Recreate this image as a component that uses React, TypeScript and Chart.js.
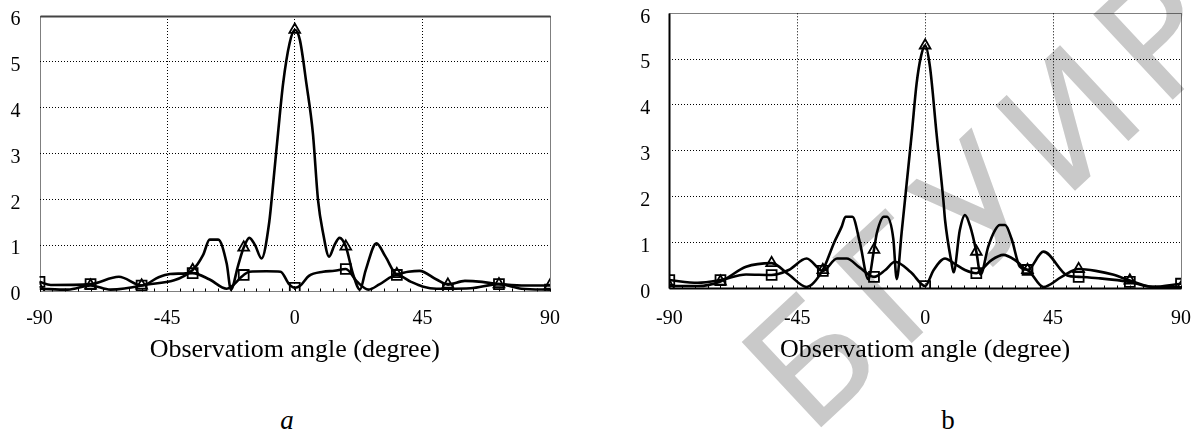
import React, { useEffect, useRef } from "react";
import { Chart, registerables } from "chart.js";

Chart.register(...registerables);

// ---------------- data ----------------
const X_TICK_VALUES = [-90, -45, 0, 45, 90];
const Y_TICK_VALUES = [0, 1, 2, 3, 4, 5, 6];
const MARKER_ANGLES = [-90, -72, -54, -36, -18, 0, 18, 36, 54, 72, 90];
const MINOR_TICK_STEP = 4.5;

const AXIS_TITLE = "Observatiom angle (degree)";
const CAPTION_A = "a";
const CAPTION_B = "b";
const WATERMARK = "БГУИР";

// panel a — triangle-marked series (main beam)
const A_TRI_ANGLES = [-90, -80, -72, -65, -54, -36, -32.3, -30, -27, -24, -22.5, -20, -18, -16, -14, -11.7, -9, -7.6, -5.9, -4.1, -1.8, 0, 1.8, 4.1, 6.4, 8.2, 10, 12.1, 14, 15.8, 18, 20.5, 23, 25, 28.8, 32, 36, 40, 44, 50, 54, 60, 66, 72, 80, 90];
const A_TRI_VALUES = [0.05, 0.03, 0.12, 0.03, 0.12, 0.46, 0.79, 1.12, 1.12, 0.6, 0.03, 0.55, 0.95, 1.16, 1.0, 0.71, 1.5, 2.35, 3.44, 4.53, 5.41, 5.7, 5.48, 4.53, 3.44, 1.99, 1.26, 0.75, 1.0, 1.16, 0.97, 0.38, 0.03, 0.45, 1.04, 0.75, 0.37, 0.42, 0.44, 0.25, 0.14, 0.22, 0.2, 0.15, 0.12, 0.12];
// panel a — square-marked series
const A_SQ_ANGLES = [-90, -86, -72, -62, -54, -48, -44, -40, -36, -30, -24, -18, -16, -10, -5, -2, 0, 2, 5, 10, 14, 18, 22, 26, 30, 36, 41, 45, 50, 54, 62, 72, 80, 90];
const A_SQ_VALUES = [0.2, 0.13, 0.15, 0.31, 0.12, 0.3, 0.37, 0.38, 0.39, 0.25, 0.05, 0.35, 0.42, 0.43, 0.42, 0.15, 0.07, 0.12, 0.33, 0.42, 0.44, 0.48, 0.2, 0.03, 0.15, 0.35, 0.2, 0.1, 0.05, 0.05, 0.06, 0.15, 0.05, 0.03];

// panel b — triangle-marked series (main beam)
const B_TRI_ANGLES = [-90, -80, -72, -63, -54, -48, -41.7, -36, -32, -29.4, -28, -25.6, -22.9, -20, -18, -17, -14.5, -13.5, -11.2, -10, -8.3, -6.5, -4.7, -3, -1.5, 0, 1.7, 4, 6.4, 7, 9.3, 10, 12.2, 14, 15.8, 18, 19.5, 22.2, 24.6, 26.3, 28.1, 30.4, 33.3, 36, 41.6, 48, 54, 60, 66, 72, 79, 90];
const B_TRI_VALUES = [0.05, 0.05, 0.15, 0.47, 0.55, 0.3, 0.03, 0.4, 1.0, 1.34, 1.56, 1.56, 0.98, 0.2, 0.84, 1.2, 1.56, 1.56, 1.08, 0.2, 1.2, 2.29, 3.38, 4.47, 5.05, 5.3, 4.83, 3.38, 1.93, 1.49, 0.55, 0.35, 1.27, 1.6, 1.36, 0.8, 0.3, 0.91, 1.27, 1.38, 1.38, 1.08, 0.47, 0.4, 0.03, 0.25, 0.42, 0.38, 0.3, 0.17, 0.04, 0.02];
// panel b — square-marked series
const B_SQ_ANGLES = [-90, -80, -72, -63, -54, -48, -41.7, -36, -31, -27.6, -23, -18, -14, -10.6, -5, 0, 3, 7, 10, 14, 18, 23, 27.5, 32, 36, 41.6, 50, 54, 61, 72, 80, 90];
const B_SQ_VALUES = [0.18, 0.12, 0.18, 0.3, 0.29, 0.4, 0.65, 0.38, 0.65, 0.65, 0.45, 0.25, 0.4, 0.58, 0.35, 0.05, 0.4, 0.65, 0.55, 0.4, 0.33, 0.6, 0.73, 0.6, 0.4, 0.8, 0.28, 0.25, 0.22, 0.14, 0.03, 0.1];

// ---------------- styling ----------------
const SERIF = '"Liberation Serif", "Times New Roman", serif';
const TICK_FONT = { family: SERIF, size: 20 };
const TITLE_FONT = { family: SERIF, size: 26 };

type Side = "solid" | "dotted";
interface PanelSpec {
  tri: [number[], number[]];
  sq: [number[], number[]];
  left: number;
  width: number;
  height: number;
  pad: { left: number; right: number; top: number; bottom: number };
  yWidth: number;
  xHeight: number;
  xTickPadding: number;
  frame: { top: Side; right: Side; bottom: Side; left: Side };
}

const PANEL_A: PanelSpec = {
  tri: [A_TRI_ANGLES, A_TRI_VALUES],
  sq: [A_SQ_ANGLES, A_SQ_VALUES],
  left: 0,
  width: 590,
  height: 380,
  pad: { left: 0, right: 40, top: 16, bottom: 0 },
  yWidth: 39.5,
  xHeight: 89,
  xTickPadding: 16,
  frame: { top: "solid", right: "dotted", bottom: "dotted", left: "dotted" },
};

const PANEL_B: PanelSpec = {
  tri: [B_TRI_ANGLES, B_TRI_VALUES],
  sq: [B_SQ_ANGLES, B_SQ_VALUES],
  left: 600,
  width: 599,
  height: 380,
  pad: { left: 0, right: 18, top: 13.3, bottom: 0 },
  yWidth: 69.3,
  xHeight: 91.7,
  xTickPadding: 18.7,
  frame: { top: "dotted", right: "dotted", bottom: "solid", left: "solid" },
};

const framePlugin = {
  id: "frame",
  beforeDatasetsDraw(chart: any, _args: any, opts: any) {
    const { ctx, chartArea: a } = chart;
    const xs = chart.scales.x;
    ctx.save();
    const side = (style: Side, x1: number, y1: number, x2: number, y2: number) => {
      ctx.beginPath();
      if (style === "solid") {
        ctx.setLineDash([]);
        ctx.lineWidth = 2;
        ctx.strokeStyle = opts.solidColor || "#000";
      } else {
        ctx.setLineDash([1, 1]);
        ctx.lineWidth = 1;
        ctx.strokeStyle = "#000";
      }
      ctx.moveTo(x1, y1);
      ctx.lineTo(x2, y2);
      ctx.stroke();
    };
    const L = Math.round(a.left) + 0.5;
    const R = Math.round(a.right) + 0.5;
    const T = Math.round(a.top) + 0.5;
    const B = Math.round(a.bottom) + 0.5;
    side(opts.top, L, T, R, T);
    side(opts.right, R, T, R, B);
    side(opts.bottom, L, B, R, B);
    side(opts.left, L, T, L, B);
    ctx.setLineDash([]);
    ctx.lineWidth = 1;
    ctx.strokeStyle = "#000";
    for (let v = xs.min; v <= xs.max + 1e-9; v += MINOR_TICK_STEP) {
      const px = Math.round(xs.getPixelForValue(v)) + 0.5;
      ctx.beginPath();
      ctx.moveTo(px, B);
      ctx.lineTo(px, B - 3);
      ctx.stroke();
    }
    ctx.restore();
  },
};

const isMarker = (ctx: any) => ctx.raw && MARKER_ANGLES.includes(ctx.raw.x);

function series(angles: number[], values: number[], style: string, r: number) {
  return {
    data: angles.map((x, i) => ({ x, y: values[i] })),
    borderColor: "#000",
    borderWidth: 2.6,
    pointStyle: style,
    pointRadius: (ctx: any) => (isMarker(ctx) ? r : 0),
    pointHoverRadius: 0,
    pointBorderColor: "#000",
    pointBackgroundColor: "rgba(255,255,255,0)",
    pointBorderWidth: 1.8,
    cubicInterpolationMode: "monotone",
    fill: false,
  };
}

function buildConfig(spec: PanelSpec): any {
  const edgeX = (v: number) => v === X_TICK_VALUES[0] || v === X_TICK_VALUES[X_TICK_VALUES.length - 1];
  const edgeY = (v: number) => v === Y_TICK_VALUES[0] || v === Y_TICK_VALUES[Y_TICK_VALUES.length - 1];
  return {
    type: "line",
    data: {
      datasets: [
        series(spec.tri[0], spec.tri[1], "triangle", 6.2),
        series(spec.sq[0], spec.sq[1], "rect", 7),
      ],
    },
    options: {
      responsive: false,
      animation: false,
      events: [],
      layout: { padding: spec.pad },
      plugins: {
        legend: { display: false },
        tooltip: { enabled: false },
        frame: { ...spec.frame, solidColor: spec.frame.top === "solid" ? "#444" : "#000" },
      },
      scales: {
        x: {
          type: "linear",
          min: X_TICK_VALUES[0],
          max: X_TICK_VALUES[X_TICK_VALUES.length - 1],
          afterBuildTicks: (s: any) => {
            s.ticks = X_TICK_VALUES.map((v) => ({ value: v }));
          },
          afterFit: (s: any) => {
            s.height = spec.xHeight;
            s.paddingLeft = 0;
            s.paddingRight = 0;
            s.paddingTop = 0;
            s.paddingBottom = 0;
          },
          grid: {
            drawTicks: false,
            lineWidth: 1,
            color: (c: any) => (c.tick && edgeX(c.tick.value) ? "rgba(0,0,0,0)" : "#000"),
          },
          border: { display: false, dash: [1, 2] },
          ticks: {
            font: TICK_FONT,
            color: "#000",
            padding: spec.xTickPadding,
            maxRotation: 0,
            autoSkip: false,
          },
          title: {
            display: true,
            text: AXIS_TITLE,
            font: TITLE_FONT,
            color: "#000",
            padding: { top: 0, bottom: 14.4 },
          },
        },
        y: {
          type: "linear",
          min: Y_TICK_VALUES[0],
          max: Y_TICK_VALUES[Y_TICK_VALUES.length - 1],
          afterBuildTicks: (s: any) => {
            s.ticks = Y_TICK_VALUES.map((v) => ({ value: v }));
          },
          afterFit: (s: any) => {
            s.width = spec.yWidth;
            s.paddingLeft = 0;
            s.paddingRight = 0;
            s.paddingTop = 0;
            s.paddingBottom = 0;
          },
          grid: {
            drawTicks: false,
            lineWidth: 1,
            color: (c: any) => (c.tick && edgeY(c.tick.value) ? "rgba(0,0,0,0)" : "#000"),
          },
          border: { display: false, dash: [1, 2] },
          ticks: {
            font: TICK_FONT,
            color: "#000",
            padding: 19,
            labelOffset: 4,
          },
        },
      },
    },
    plugins: [framePlugin],
  };
}

function Panel({ spec }: { spec: PanelSpec }) {
  const ref = useRef<HTMLCanvasElement>(null);
  useEffect(() => {
    if (!ref.current) return;
    const chart = new Chart(ref.current, buildConfig(spec));
    return () => chart.destroy();
  }, [spec]);
  return (
    <canvas
      ref={ref}
      width={spec.width}
      height={spec.height}
      style={{ position: "absolute", left: spec.left, top: 0, width: spec.width, height: spec.height, zIndex: 2 }}
    />
  );
}

const WM_SIZE = 160;
const WM_BASELINE = WM_SIZE * 0.846;

export default function App() {
  return (
    <div
      style={{
        position: "absolute",
        left: 0,
        top: 0,
        width: 1199,
        height: 432,
        overflow: "hidden",
        background: "#fff",
      }}
    >
      <div
        style={{
          position: "absolute",
          left: 810,
          top: 438 - WM_BASELINE,
          fontFamily: '"DejaVu Sans", sans-serif',
          fontSize: WM_SIZE,
          lineHeight: 1,
          letterSpacing: 14,
          color: "#c9c9c9",
          whiteSpace: "nowrap",
          transformOrigin: `0px ${WM_BASELINE}px`,
          transform: "rotate(-43deg)",
          zIndex: 1,
        }}
      >
        {WATERMARK}
      </div>
      <Panel spec={PANEL_A} />
      <Panel spec={PANEL_B} />
      <div
        style={{
          position: "absolute",
          left: 287,
          top: 420,
          transform: "translate(-50%, -50%)",
          fontFamily: SERIF,
          fontStyle: "italic",
          fontSize: 27,
          lineHeight: 1,
          zIndex: 3,
        }}
      >
        {CAPTION_A}
      </div>
      <div
        style={{
          position: "absolute",
          left: 948,
          top: 420,
          transform: "translate(-50%, -50%)",
          fontFamily: SERIF,
          fontSize: 27,
          lineHeight: 1,
          zIndex: 3,
        }}
      >
        {CAPTION_B}
      </div>
    </div>
  );
}
